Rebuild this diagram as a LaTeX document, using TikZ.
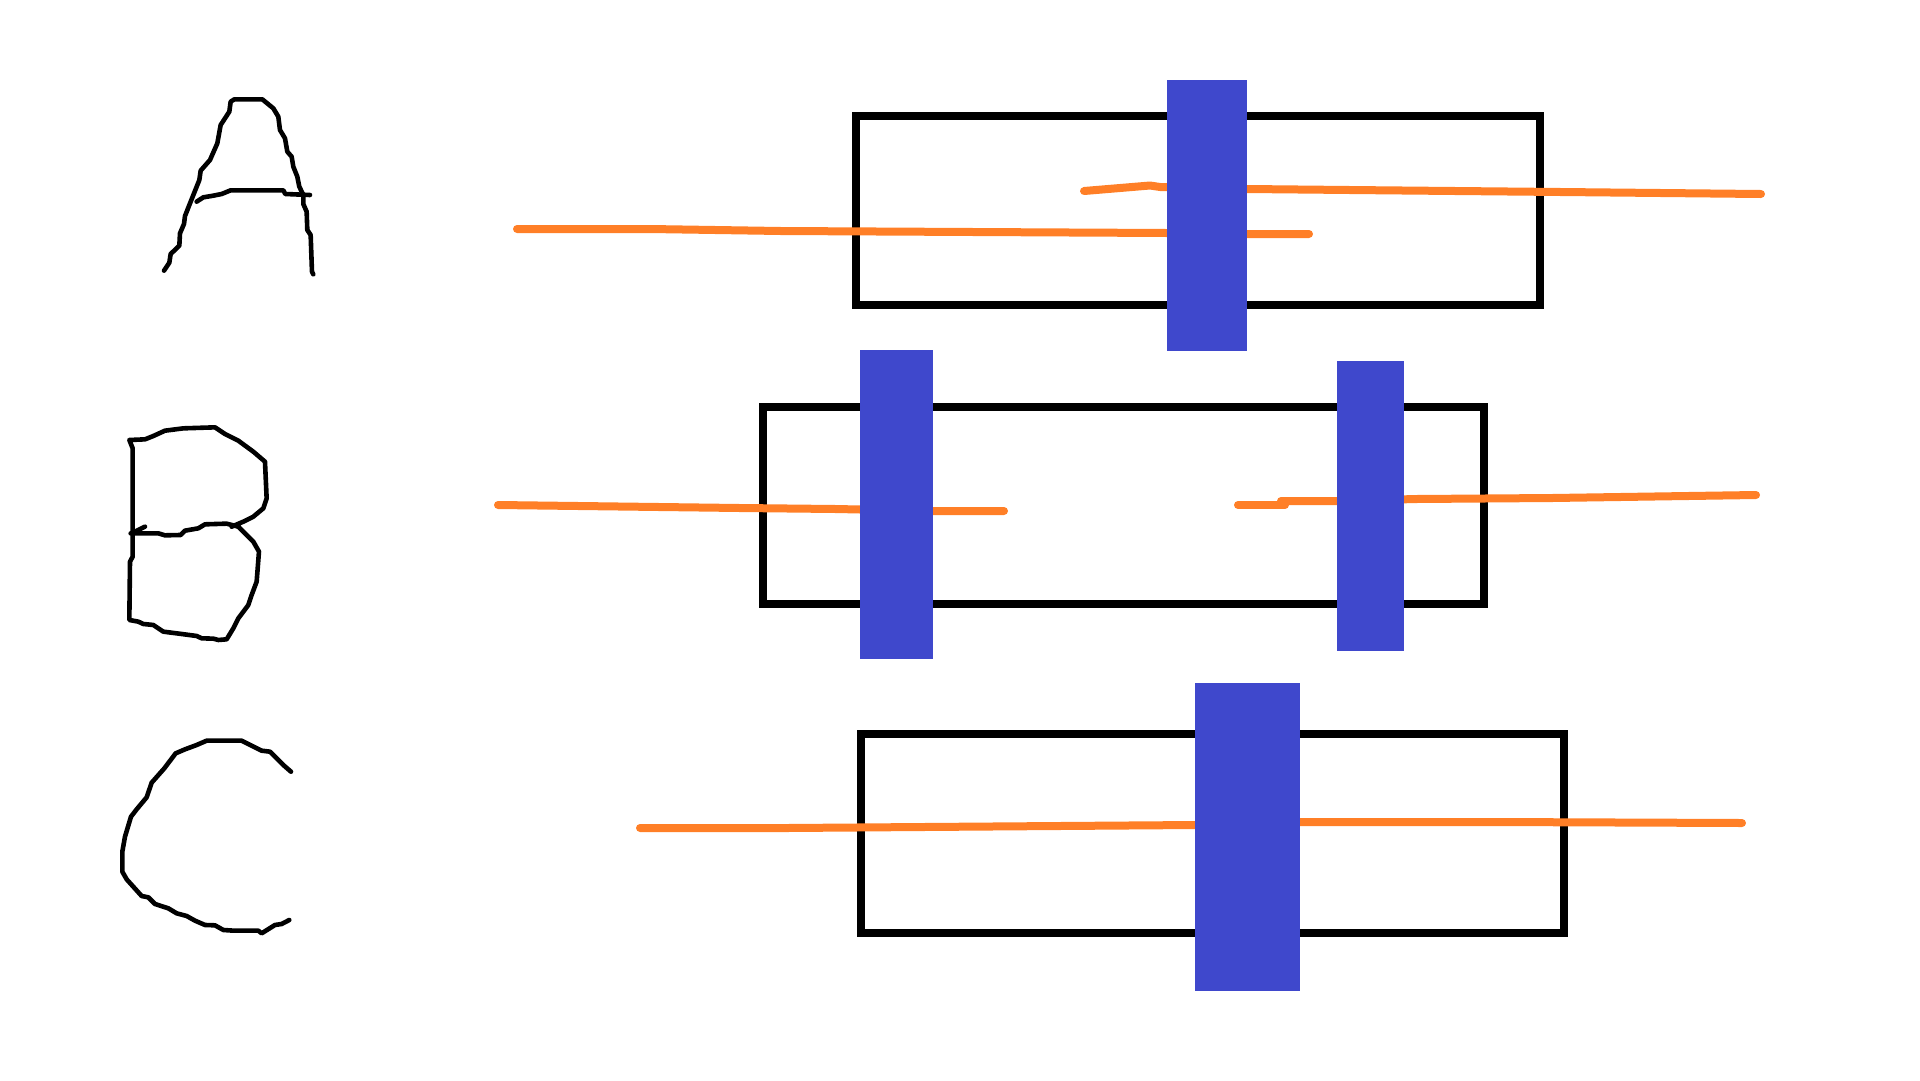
\documentclass[tikz,border=0pt]{standalone}
\usepackage{tikz}
\definecolor{wireorange}{HTML}{FF7F27}
\definecolor{barblue}{HTML}{3F48CC}
\tikzset{
	frame/.style = {draw = black, line width = 8pt},
	wire/.style = {draw = wireorange, line width = 8pt, line cap = round, line join = round},
	bar/.style = {fill = barblue},
	pen/.style = {draw = black, line width = 4.6pt, line cap = round, line join = round}
}

\begin{document}
\begin{tikzpicture}[x = 1pt, y = -1pt]
\useasboundingbox (0, 0) rectangle (1920, 1080);

\foreach \xa/\ya/\xb/\yb in {
	856/116/1540/305,
	763/407/1484/604,
	861/734/1564/933
	}
\draw[frame] (\xa, \ya) rectangle (\xb, \yb);

\draw[wire] (517, 229) -- (650, 229) -- (781, 231) -- (1167, 233) -- (1247, 234) -- (1309, 234);
\draw[wire] (1084, 191) -- (1150, 185.5) -- (1160, 187) -- (1167, 187) -- (1247, 189) -- (1350, 190) -- (1561, 192) -- (1661, 193) -- (1761, 194);
\draw[wire] (498, 505) -- (740, 508) -- (836, 509) -- (933, 511) -- (1004, 511);
\draw[wire] (1238, 505) -- (1285, 505);
\draw[wire] (1281, 501) -- (1337, 501) -- (1416, 499) -- (1552, 498) -- (1620, 497) -- (1688, 496) -- (1756, 495);
\draw[wire] (640, 828) -- (787, 828) -- (1195, 825) -- (1300, 822) -- (1495, 822) -- (1742, 823);

\foreach \xa/\ya/\xb/\yb in {
	1167/80/1247/351,
	860/350/933/659,
	1337/361/1404/651,
	1195/683/1300/991
	}
\fill[bar] (\xa, \ya) rectangle (\xb, \yb);

\begin{scope}[shift = {(140, 80)}, x = 0.3333pt, y = -0.3333pt]
\draw[pen] (72, 572) -- (88, 548) -- (92, 522) -- (118, 497) -- (120, 460) -- (132, 432) -- (135, 408) -- (160, 345) -- (178, 300) -- (182, 272) -- (210, 240) -- (232, 190) -- (242, 135) -- (268, 95) -- (272, 65) -- (283, 58) -- (367, 58) -- (400, 85) -- (415, 110) -- (420, 150) -- (435, 175) -- (442, 215) -- (455, 230) -- (460, 260) -- (472, 290) -- (478, 320) -- (490, 345) -- (490, 372) -- (500, 395) -- (502, 450) -- (512, 465) -- (516, 575) -- (520, 583);
\draw[pen] (170, 365) -- (190, 352) -- (220, 347) -- (245, 342) -- (272, 331) -- (430, 331) -- (436, 342) -- (510, 345);
\end{scope}

\begin{scope}[shift = {(110, 410)}, x = 0.3333pt, y = -0.3333pt]
\draw[pen] (385, 350) -- (430, 395) -- (447, 425) -- (440, 515) -- (425, 555) -- (415, 585) -- (385, 625) -- (370, 655) -- (350, 688) -- (325, 690) -- (310, 686) -- (275, 685) -- (260, 678) -- (215, 672) -- (160, 665) -- (130, 645) -- (100, 642) -- (85, 635) -- (58, 630) -- (60, 455) -- (68, 440) -- (68, 115) -- (58, 90) -- (105, 88) -- (130, 78) -- (165, 62) -- (220, 55) -- (315, 52) -- (345, 72) -- (385, 92) -- (430, 125) -- (465, 155) -- (470, 265) -- (460, 295) -- (430, 320) -- (400, 335) -- (365, 350);
\draw[pen] (62, 370) -- (145, 370) -- (165, 376) -- (212, 375) -- (225, 362) -- (265, 355) -- (285, 343) -- (350, 341) -- (385, 350);
\draw[pen] (75, 365) -- (105, 350);
\end{scope}

\begin{scope}[shift = {(105, 720)}, x = 0.3333pt, y = -0.3333pt]
\draw[pen] (558, 155) -- (535, 135) -- (495, 95) -- (470, 92) -- (410, 62) -- (305, 62) -- (275, 75) -- (240, 88) -- (212, 100) -- (178, 145) -- (140, 188) -- (125, 232) -- (95, 268) -- (78, 290) -- (60, 350) -- (52, 395) -- (52, 455) -- (65, 478) -- (110, 528) -- (130, 532) -- (150, 552) -- (190, 565) -- (215, 580) -- (245, 588) -- (270, 602) -- (300, 615) -- (330, 616) -- (355, 630) -- (385, 632) -- (460, 632) -- (470, 640) -- (510, 615) -- (530, 612) -- (553, 600);
\end{scope}

\end{tikzpicture}
\end{document}
